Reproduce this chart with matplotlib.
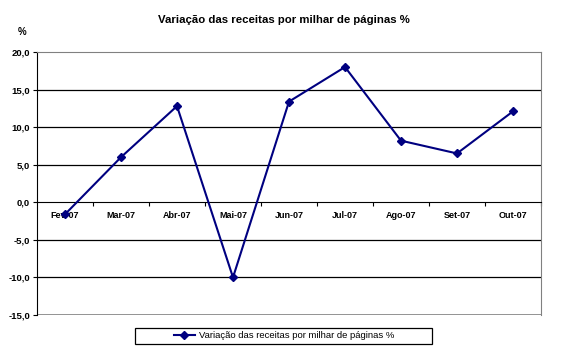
import matplotlib
matplotlib.use("Agg")
import matplotlib.pyplot as plt
from matplotlib.patches import Rectangle
from matplotlib.ticker import FixedLocator, FuncFormatter

plt.rcParams['font.family'] = ['Liberation Sans', 'DejaVu Sans']

# data
meses = ["Fev-07", "Mar-07", "Abr-07", "Mai-07", "Jun-07", "Jul-07", "Ago-07", "Set-07", "Out-07"]
variacao = [-1.6, 6.0, 12.8, -10.0, 13.4, 18.0, 8.2, 6.5, 12.1]
titulo = "Variação das receitas por milhar de páginas %"

W, H = 568, 352
fig = plt.figure(figsize=(W / 100, H / 100), dpi=100)
ax = fig.add_axes([37 / W, 1 - 315 / H, 504 / W, 263 / H])

x = list(range(len(meses)))
ax.plot(x, variacao, color="#000080", lw=1.5, marker="D", ms=4, label=titulo, zorder=3)

ax.set_xlim(-0.5, len(meses) - 0.5)
ax.set_ylim(-15, 20)

# horizontal gridlines
for v in [-10, -5, 5, 10, 15]:
    ax.axhline(v, color="black", lw=0.9, zorder=1)
ax.axhline(-15, color="#808080", lw=1.2, zorder=1)

ax.spines['top'].set_color("#808080")
ax.spines['right'].set_color("#808080")
ax.spines['left'].set_color("black")
ax.spines['bottom'].set_position(('data', 0))
ax.spines['bottom'].set_color("black")

ax.set_yticks([-15, -10, -5, 0, 5, 10, 15, 20])
ax.yaxis.set_major_formatter(FuncFormatter(lambda v, p: f"{v:.1f}".replace(".", ",")))
ax.tick_params(axis='y', direction='out', length=3, width=0.8, pad=2, labelsize=6.8)
for t in ax.get_yticklabels():
    t.set_fontweight("bold")

ax.set_xticks(x)
ax.set_xticklabels(meses, fontsize=6.5, fontweight="bold")
ax.tick_params(axis='x', which='major', length=0, pad=6)
ax.xaxis.set_minor_locator(FixedLocator([i + 0.5 for i in range(len(meses))]))
ax.tick_params(axis='x', which='minor', direction='out', length=3, width=0.8)

fig.text(0.5, 1 - 20 / H, titulo, ha="center", va="center", fontsize=8.2, fontweight="bold")
fig.text(22 / W, 1 - 32 / H, "%", ha="center", va="center", fontsize=7, fontweight="bold")

# legend box drawn wider than the entry, as in the original
fig.patches.append(Rectangle((135 / W, 1 - 344 / H), 297 / W, 16 / H,
                             transform=fig.transFigure, fill=False,
                             edgecolor="black", lw=0.9))
fig.legend(loc="center", bbox_to_anchor=(0.5, 1 - 336 / H), fontsize=6.8,
           frameon=False, handlelength=2.2, handletextpad=0.4)

fig.savefig("out.png", dpi=100)
